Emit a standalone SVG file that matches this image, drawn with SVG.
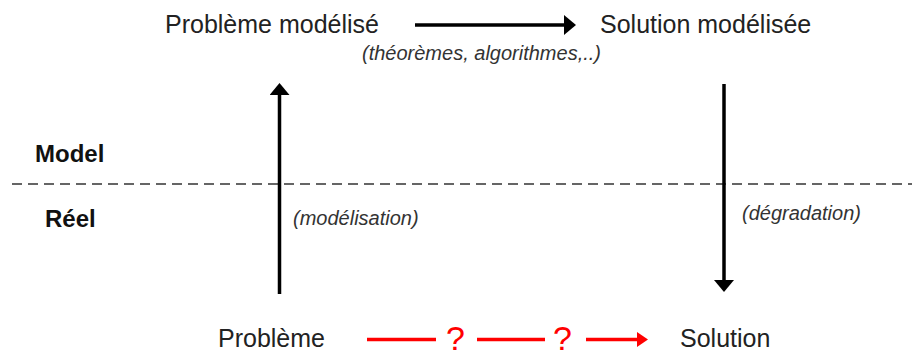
<svg xmlns="http://www.w3.org/2000/svg" width="912" height="352" viewBox="0 0 912 352">
<defs>
<style>
.t{font-family:"Liberation Sans",Arial,sans-serif;font-size:25px;fill:#222}
.b{font-family:"Liberation Sans",Arial,sans-serif;font-size:24px;font-weight:bold;fill:#111}
.i{font-family:"Liberation Sans",Arial,sans-serif;font-size:20px;font-style:italic;fill:#333}
.q{font-family:"Liberation Sans",Arial,sans-serif;font-size:34px;fill:#ff0000}
.k{stroke:#000;stroke-width:3.5;fill:none}
.r{stroke:#ff0000;stroke-width:3.5;fill:none}
</style>
<marker id="ah" markerUnits="userSpaceOnUse" markerWidth="12" markerHeight="20" refX="6" refY="10" orient="auto" viewBox="0 0 12 20">
<path d="M0,0 L12,10 L0,20 z" fill="#000"/>
</marker>
<marker id="ahr" markerUnits="userSpaceOnUse" markerWidth="11" markerHeight="15" refX="5" refY="7.5" orient="auto" viewBox="0 0 11 15">
<path d="M0,0 L11,7.5 L0,15 z" fill="#ff0000"/>
</marker>
</defs>
<line x1="12" y1="184" x2="912" y2="184" stroke="#333" stroke-width="1.5" stroke-dasharray="10,6"/>
<g id="pm"><text class="t" x="165" y="33">Problème modélisé</text></g>
<g id="sm"><text class="t" x="600" y="33">Solution modélisée</text></g>
<g id="p"><text class="t" x="218" y="347">Problème</text></g>
<g id="s"><text class="t" x="680" y="347">Solution</text></g>
<g id="labels">
<text class="b" x="35" y="162">Model</text>
<text class="b" x="45" y="227">Réel</text>
<text class="i" x="362" y="60">(théorèmes, algorithmes,..)</text>
<text class="i" x="293" y="225">(modélisation)</text>
<text class="i" x="742" y="220">(dégradation)</text>
</g>
<g id="connectors">
<line class="k" x1="415" y1="25" x2="570" y2="25" marker-end="url(#ah)"/>
<line class="k" x1="279.5" y1="294" x2="279.5" y2="89" marker-end="url(#ah)"/>
<line class="k" x1="724" y1="84" x2="724" y2="286" marker-end="url(#ah)"/>
<line class="r" x1="367" y1="339.5" x2="436" y2="339.5"/>
<text class="q" x="446" y="350">?</text>
<line class="r" x1="477" y1="339.5" x2="545" y2="339.5"/>
<text class="q" x="553" y="350">?</text>
<line class="r" x1="586" y1="339.5" x2="642" y2="339.5" marker-end="url(#ahr)"/>
</g>
</svg>
